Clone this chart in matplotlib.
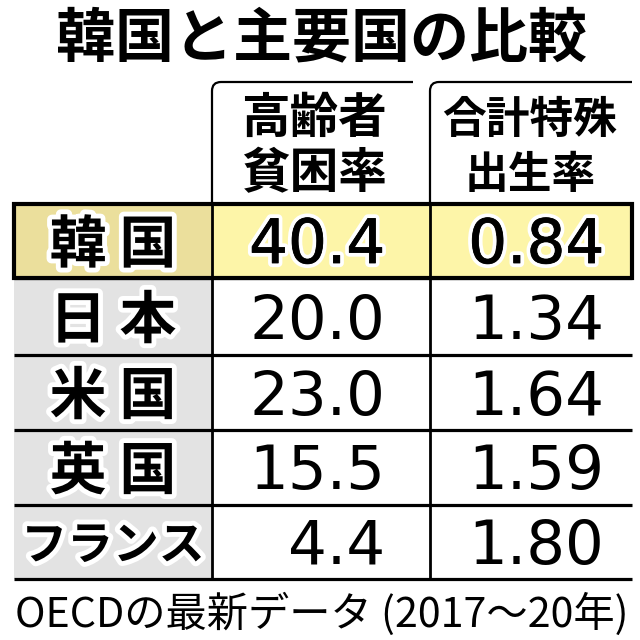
import matplotlib
matplotlib.use("Agg")
import matplotlib.pyplot as plt
import matplotlib.patheffects as pe
from matplotlib.patches import Rectangle
from matplotlib.path import Path
from matplotlib.patches import PathPatch

# ---- data ----
title = "韓国と主要国の比較"
col_headers = ["高齢者\n貧困率", "合計特殊\n出生率"]
countries = ["韓 国", "日 本", "米 国", "英 国", "フランス"]
poverty = ["40.4", "20.0", "23.0", "15.5", "4.4"]
fertility = ["0.84", "1.34", "1.64", "1.59", "1.80"]
note = "OECDの最新データ (2017～20年)"

JP = ["Noto Sans CJK JP", "DejaVu Sans"]

fig = plt.figure(figsize=(6.4, 6.4), dpi=100)
ax = fig.add_axes([0, 0, 1, 1])
ax.set_xlim(0, 640)
ax.set_ylim(640, 0)
ax.axis("off")

# layout (pixel coordinates)
x_left, x_c1, x_c2, x_right = 14, 212, 430, 632
row_edges = [204, 278, 355, 430, 505, 579]
hdr_top = 82
hdr1_end = 413

beige = "#ebdf9c"
yellow = "#fdf5a8"
gray = "#e3e3e3"

# cell fills
for i in range(len(countries)):
    y0, y1 = row_edges[i], row_edges[i + 1]
    lab_col = beige if i == 0 else gray
    val_col = yellow if i == 0 else "white"
    ax.add_patch(Rectangle((x_left, y0), x_c1 - x_left, y1 - y0, fc=lab_col, ec="none", zorder=1))
    ax.add_patch(Rectangle((x_c1, y0), x_right - x_c1, y1 - y0, fc=val_col, ec="none", zorder=1))

# header rounded lines
r = 9
def header_path(x0, x1):
    verts = [(x0, row_edges[0]), (x0, hdr_top + r), (x0, hdr_top), (x0 + r, hdr_top), (x1, hdr_top)]
    codes = [Path.MOVETO, Path.LINETO, Path.CURVE3, Path.CURVE3, Path.LINETO]
    return PathPatch(Path(verts, codes), fc="none", ec="black", lw=1.6, zorder=3)
ax.add_patch(header_path(x_c1, hdr1_end))
ax.add_patch(header_path(x_c2, x_right))

# horizontal lines
for y in row_edges[1:]:
    ax.plot([x_left, x_right], [y, y], color="black", lw=2.3, solid_capstyle="butt", zorder=3)
# vertical dividers
for x in (x_c1, x_c2):
    ax.plot([x, x], [row_edges[0], row_edges[-1]], color="black", lw=2.0, solid_capstyle="butt", zorder=3)
# Korea box
ax.add_patch(Rectangle((x_left, row_edges[0]), x_right - x_left, row_edges[1] - row_edges[0],
                       fc="none", ec="black", lw=3.0, zorder=4))

# title
ax.text(321, 56, title, ha="center", va="baseline", fontsize=42.5,
        fontweight="bold", family=JP, zorder=5)

# headers
hx = [(x_c1 + hdr1_end) / 2 + 1, (x_c2 + x_right) / 2 - 1]
hsize = [35, 31.5]
for j, h in enumerate(col_headers):
    l1, l2 = h.split("\n")
    ax.text(hx[j], 133, l1, ha="center", va="baseline", fontsize=hsize[j],
            fontweight="bold", family=JP, zorder=5)
    ax.text(hx[j], 188, l2, ha="center", va="baseline", fontsize=hsize[j],
            fontweight="bold", family=JP, zorder=5)

halo = [pe.Stroke(linewidth=7, foreground="white"), pe.Normal()]
halo_bold = [pe.Stroke(linewidth=6, foreground="white"),
             pe.Stroke(linewidth=0.6, foreground="black"), pe.Normal()]

for i in range(len(countries)):
    yc = (row_edges[i] + row_edges[i + 1]) / 2
    lab = countries[i]
    fs = 41 if len(lab) <= 3 else 33
    ax.text((x_left + x_c1) / 2, yc + 0.38 * fs * 100 / 72, lab, ha="center", va="baseline",
            fontsize=fs, fontweight="bold", family=JP, path_effects=halo, zorder=5)
    pe_val = halo_bold if i == 0 else None
    ax.text(385, yc + 22, poverty[i], ha="right", va="baseline", fontsize=44,
            family="DejaVu Sans", path_effects=pe_val, zorder=5)
    ax.text(604, yc + 22, fertility[i], ha="right", va="baseline", fontsize=44,
            family="DejaVu Sans", path_effects=pe_val, zorder=5)

# footnote, size fitted to the table width
fn = ax.text(322, 627, note, ha="center", va="baseline", fontsize=28, family=JP, zorder=5)
renderer = fig.canvas.get_renderer()
w = fn.get_window_extent(renderer).width
fn.set_fontsize(28 * 614 / w)

fig.savefig("out.png", dpi=100, facecolor="white")
